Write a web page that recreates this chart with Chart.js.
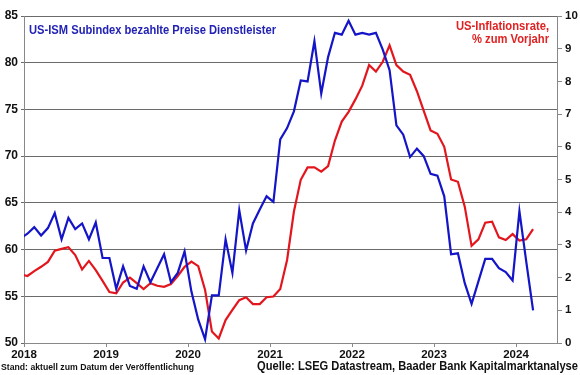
<!DOCTYPE html>
<html>
<head>
<meta charset="utf-8">
<script src="https://cdn.jsdelivr.net/npm/chart.js@4.4.1/dist/chart.umd.min.js"></script>
<style>
  html, body { margin: 0; padding: 0; background: #fff; }
  canvas { display: block; }
</style>
</head>
<body>
<canvas id="chart" width="580" height="375"></canvas>
<script>
// Monatswerte von Dez 2017 bis Maerz 2024
const jahre = ['2018', '2019', '2020', '2021', '2022', '2023', '2024'];

// US-ISM Subindex bezahlte Preise Dienstleister (linke Achse)
const ismPreise = [61.2,
    61.7, 62.4, 61.5, 62.3, 63.9, 61.1, 63.4, 62.2, 62.8, 61.1, 62.9, 59.1,
    59.1, 55.8, 58.2, 56.1, 55.8, 58.2, 56.5, 58.0, 59.5, 56.5, 57.5, 59.8,
    55.5, 52.5, 50.4, 55.1, 55.1, 61.1, 57.5, 64.2, 59.9, 62.8, 64.3, 65.7,
    65.1, 71.8, 73.0, 74.8, 78.1, 78.0, 82.3, 76.7, 80.6, 83.2, 83.0, 84.5,
    83.0, 83.2, 83.0, 83.2, 81.4, 79.2, 73.3, 72.3, 69.9, 70.8, 70.0, 68.1,
    67.9, 65.7, 59.5, 59.6, 56.4, 54.2, 56.6, 59.0, 59.0, 58.0, 57.6, 56.7,
    64.1, 58.7, 53.5];

// US-Inflationsrate, % zum Vorjahr (rechte Achse)
const inflation = [2.1,
    2.05, 2.2, 2.33, 2.48, 2.82, 2.88, 2.93, 2.69, 2.25, 2.51, 2.23, 1.9,
    1.56, 1.52, 1.85, 2.0, 1.83, 1.65, 1.83, 1.75, 1.72, 1.8, 2.05, 2.33,
    2.49, 2.35, 1.62, 0.35, 0.14, 0.7, 1.01, 1.31, 1.4, 1.19, 1.19, 1.4,
    1.42, 1.65, 2.54, 4.02, 4.99, 5.37, 5.37, 5.24, 5.41, 6.19, 6.77, 7.07,
    7.45, 7.87, 8.5, 8.3, 8.6, 9.1, 8.5, 8.3, 8.2, 7.7, 7.1, 6.5,
    6.4, 6.0, 5.0, 4.93, 4.17, 2.97, 3.17, 3.68, 3.71, 3.23, 3.15, 3.33,
    3.13, 3.17, 3.48];

const blau = '#1414c8';
const rot = '#e3161e';
const schrift = '"Liberation Sans", Arial, sans-serif';

// Monatsmitte: Jan 2018 = 0.5, Dez 2017 = -0.5
const punkte = arr => arr.map((v, i) => ({ x: i - 0.5, y: v }));

// Texte im Diagramm und Fusszeile
const textePlugin = {
    id: 'texte',
    afterDraw(chart) {
        const ctx = chart.ctx;
        ctx.save();
        ctx.textBaseline = 'middle';

        ctx.font = 'bold 12px ' + schrift;
        ctx.fillStyle = '#2222b4';
        ctx.textAlign = 'left';
        ctx.fillText('US-ISM Subindex bezahlte Preise Dienstleister', 29, 31, 247);

        ctx.fillStyle = '#e02222';
        ctx.textAlign = 'right';
        ctx.fillText('US-Inflationsrate,', 549, 27, 93);
        ctx.fillText('% zum Vorjahr', 549, 40, 77);

        ctx.fillStyle = '#111';
        ctx.textAlign = 'left';
        ctx.font = 'bold 9.5px ' + schrift;
        ctx.fillText('Stand: aktuell zum Datum der Veröffentlichung', 1, 367, 193);

        ctx.textAlign = 'right';
        ctx.font = 'bold 12px ' + schrift;
        ctx.fillText('Quelle: LSEG Datastream, Baader Bank Kapitalmarktanalyse', 578, 367, 321);
        ctx.restore();
    }
};

const ctx = document.getElementById('chart').getContext('2d');
const chart = new Chart(ctx, {
    type: 'line',
    data: {
        datasets: [{
            label: 'US-ISM Subindex bezahlte Preise Dienstleister',
            data: punkte(ismPreise),
            yAxisID: 'y',
            borderColor: blau,
            borderWidth: 2.2,
            pointRadius: 0,
            tension: 0,
            clip: 0,
        }, {
            label: 'US-Inflationsrate, % zum Vorjahr',
            data: punkte(inflation),
            yAxisID: 'y2',
            borderColor: rot,
            borderWidth: 2.2,
            pointRadius: 0,
            tension: 0,
            clip: 0,
        }],
    },
    options: {
        responsive: false,
        animation: false,
        devicePixelRatio: 1,
        layout: { padding: { top: 16, left: 0, right: 0, bottom: 0 } },
        plugins: {
            legend: { display: false },
            tooltip: { enabled: false },
        },
        scales: {
            x: {
                type: 'linear',
                min: 0,
                max: 78,
                afterFit: s => { s.height = 32; },
                grid: { drawOnChartArea: false, tickLength: 4, color: '#888' },
                border: { color: '#888' },
                ticks: {
                    stepSize: 12,
                    includeBounds: false,
                    autoSkip: false,
                    maxRotation: 0,
                    padding: 1,
                    color: '#111',
                    font: { family: schrift, size: 11.5, weight: 'bold' },
                    callback: v => jahre[v / 12] ?? '',
                },
            },
            y: {
                position: 'left',
                min: 50,
                max: 85,
                afterFit: s => { s.width = 24; },
                grid: { color: '#6a6a6a', tickLength: 3 },
                border: { color: '#888' },
                ticks: {
                    stepSize: 5,
                    padding: 3,
                    color: '#111',
                    font: { family: schrift, size: 12, weight: 'bold' },
                },
            },
            y2: {
                position: 'right',
                min: 0,
                max: 10,
                afterFit: s => { s.width = 23; },
                grid: { drawOnChartArea: false, tickLength: 5, color: '#888' },
                border: { color: '#888' },
                ticks: {
                    stepSize: 1,
                    padding: 3,
                    color: '#111',
                    font: { family: schrift, size: 11.5, weight: 'bold' },
                },
            },
        },
    },
    plugins: [textePlugin],
});
</script>
</body>
</html>
